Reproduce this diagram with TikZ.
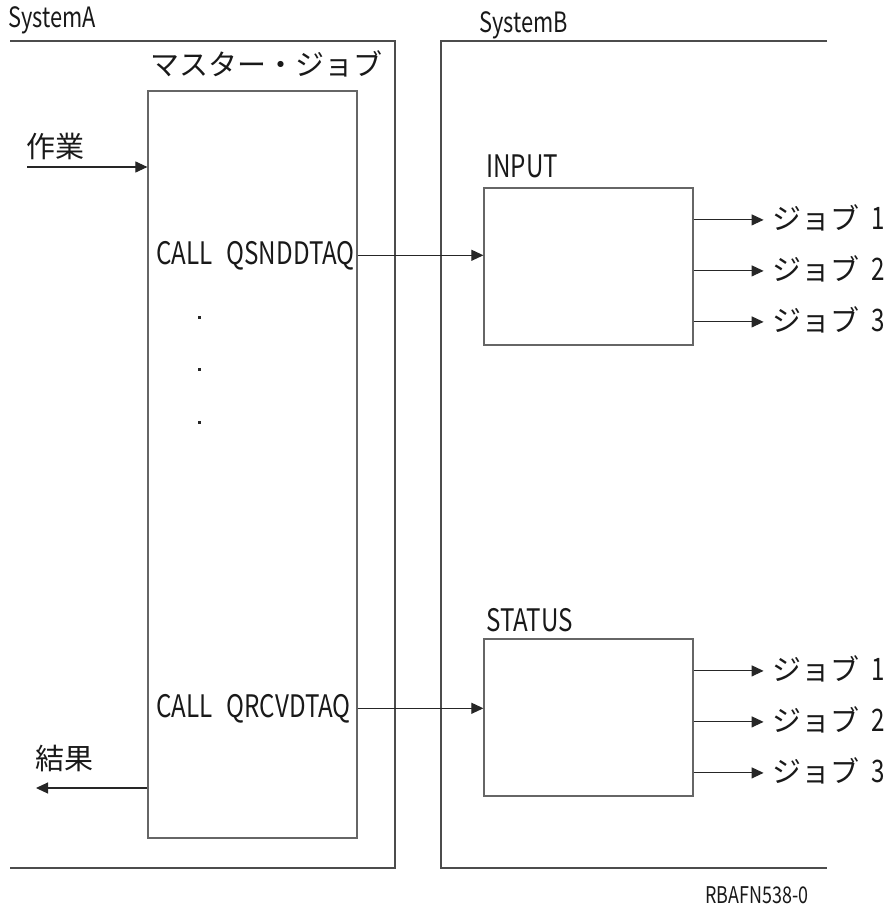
\documentclass[tikz,border=0pt]{standalone}
\usepackage{fontspec}
\setmainfont{Noto Sans CJK JP}
\newfontfamily\latn[FakeStretch=0.78]{Noto Sans CJK JP}
\usetikzlibrary{arrows.meta,positioning,calc}

\begin{document}
\begin{tikzpicture}[
    x=1pt, y=-1pt,
    box/.style={draw=black!60, line width=1.2pt, minimum width=209pt, inner sep=0pt},
    frame/.style={draw=black!70, line width=1.2pt},
    ja/.style={font=\fontsize{29}{29}\selectfont, text=black!90, inner sep=0pt},
    lat/.style={font=\latn\fontsize{31}{31}\selectfont, text=black!90, inner sep=0pt},
    joblbl/.style={ja, anchor=west, inner xsep=9pt, text height=22pt, text depth=3pt},
    dotmark/.style={rectangle, fill=black!85, minimum size=3pt, inner sep=0pt},
    rel/.style={-{Triangle[length=12pt, width=11pt]}, line width=1.1pt, black!85}
  ]
    \useasboundingbox (0,0) rectangle (891,907);

    % system frames
    \draw[frame] (10,41) -| (395,868) -- (10,868);
    \draw[frame] (827,41) -| (441,868) -- (827,868);
    \node[lat, font=\latn\fontsize{28}{28}\selectfont, anchor=base west] (sysa) at (8,28) {SystemA};
    \node[lat, font=\latn\fontsize{28}{28}\selectfont, anchor=base west] (sysb) at (479,33) {SystemB};

    % boxes
    \node[box, minimum height=747pt] (master) at (252.5,464.5) {};
    \node[box, minimum height=157pt] (input) at (588.5,266.5) {};
    \node[box, minimum height=157pt] (status) at (588.5,717.5) {};

    \node[ja, anchor=base west] (masterlbl) at (150,75) {マスター・ジョブ};
    \node[lat, anchor=base west] (inputlbl) at (486,177) {INPUT};
    \node[lat, anchor=base west] (statuslbl) at (486,631) {STATUS};

    % inside master job
    \node[lat, anchor=base west] (snd) at (156,264) {CALL\hspace{14pt}QSNDDTAQ};
    \node[lat, anchor=base west] (rcv) at (156,717) {CALL\hspace{14pt}QRCVDTAQ};
    \foreach \y [count=\i] in {317,369,422}
      \node[dotmark] (dot\i) at (199,\y) {};

    % work in, result out
    \node[ja, anchor=base west] (work) at (26,157) {作業};
    \coordinate (workin) at (27,167);
    \draw[rel] (workin) -- (workin -| master.west);
    \node[ja, anchor=base west] (result) at (35,769) {結果};
    \coordinate (resout) at (36,788);
    \draw[rel] (resout -| master.west) -- (resout);

    % queues
    \draw[rel] (snd.east -| master.east) -- (snd.east -| input.west);
    \draw[rel] (rcv.east -| master.east) -- (rcv.east -| status.west);

    % jobs
    \foreach \b in {input,status}
      \foreach \y [count=\i] in {32.5,83.5,134.5} {
        \node[joblbl] (\b job\i) at ($(\b.north east)+(70,\y)$) {ジョブ\hspace{12pt}{\latn\fontsize{31}{31}\selectfont\i}};
        \draw[rel] (\b job\i -| \b.east) -- (\b job\i.west);
      }

    \node[lat, font=\latn\fontsize{23}{23}\selectfont, anchor=base west] (figid) at (705,903) {RBAFN538-0};
  \end{tikzpicture}
\end{document}
